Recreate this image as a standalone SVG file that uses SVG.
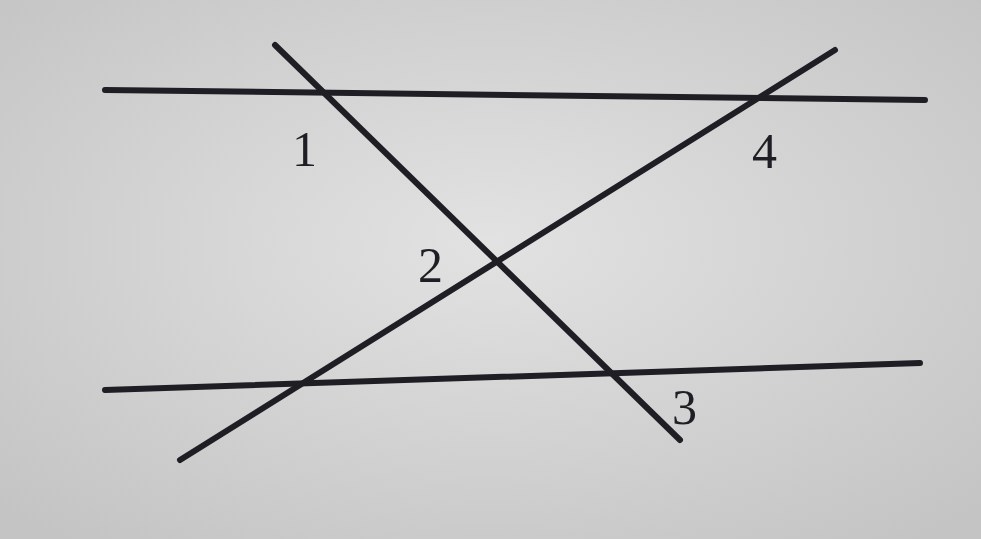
<svg xmlns="http://www.w3.org/2000/svg" width="981" height="539" viewBox="0 0 981 539">
<defs>
<radialGradient id="bg" cx="0.5" cy="0.45" r="0.7">
<stop offset="0" stop-color="#e2e2e2"/>
<stop offset="1" stop-color="#c4c4c4"/>
</radialGradient>
<style>
.ln{stroke:#1e1e24;stroke-width:6;stroke-linecap:round;fill:none}
.lb{font-family:"Liberation Serif","DejaVu Serif",serif;font-size:50px;fill:#1e1e24}
</style>
</defs>
<rect width="981" height="539" fill="url(#bg)"/>
<g id="connectors">
<line class="ln" x1="105" y1="90" x2="925" y2="100"/>
<line class="ln" x1="105" y1="390" x2="920" y2="363"/>
<line class="ln" x1="275" y1="45" x2="680" y2="440"/>
<line class="ln" x1="180" y1="460" x2="835" y2="50"/>
</g>
<g id="labels">
<text class="lb" x="292" y="166">1</text>
<text class="lb" x="418" y="282">2</text>
<text class="lb" x="672" y="424">3</text>
<text class="lb" x="752" y="168">4</text>
</g>
</svg>
